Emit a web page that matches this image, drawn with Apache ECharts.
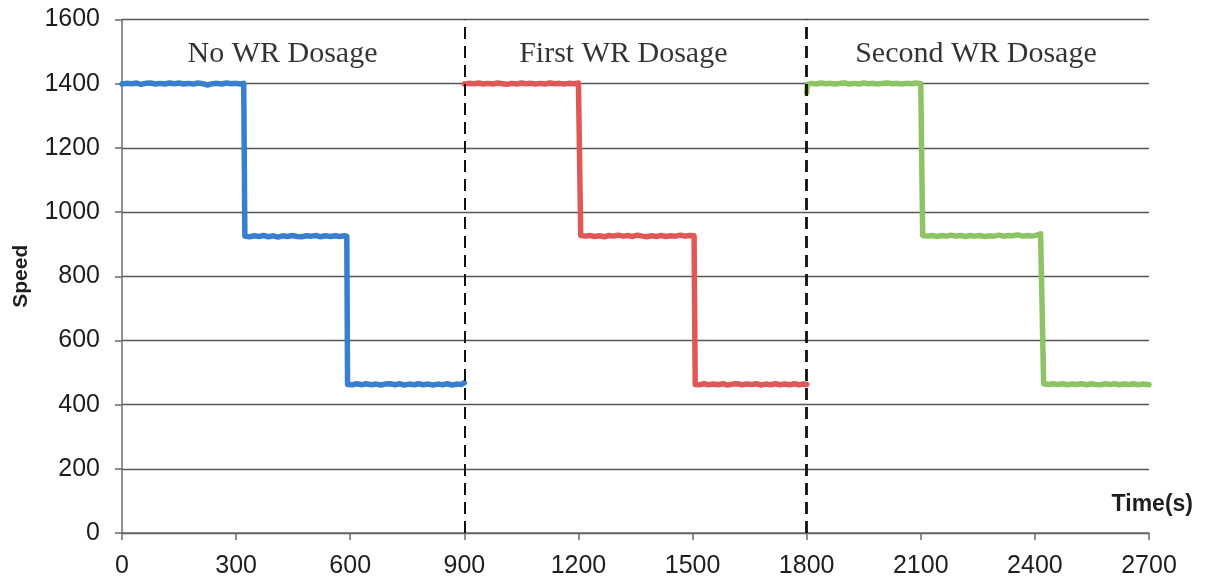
<!DOCTYPE html>
<html>
<head>
<meta charset="utf-8">
<title>Speed vs Time</title>
<script src="https://cdn.jsdelivr.net/npm/echarts@6/dist/echarts.min.js"></script>
<style>
  html, body { margin: 0; padding: 0; background: #ffffff; }
  #chart { width: 1206px; height: 579px; }
</style>
</head>
<body>
<div id="chart"></div>
<script>
// Speed readings [time (s), speed] for each dosage phase
const noDosage = [
  [0, 1399], [12, 1401], [25, 1400], [38, 1402], [50, 1398], [62, 1401], [75, 1402],
  [88, 1399], [100, 1401], [112, 1399], [125, 1402], [138, 1400], [150, 1402], [162, 1399],
  [175, 1401], [188, 1399], [200, 1402], [212, 1400], [225, 1396], [238, 1400], [250, 1401],
  [262, 1399], [275, 1402], [288, 1400], [300, 1401], [310, 1399], [320, 1401],
  [323, 925], [335, 923], [348, 926], [360, 924], [372, 927], [385, 923], [398, 926],
  [410, 922], [422, 926], [435, 924], [448, 927], [460, 924], [472, 923], [485, 926],
  [498, 925], [510, 927], [522, 923], [535, 926], [548, 924], [560, 926], [572, 924],
  [584, 926], [591, 925],
  [593, 463], [605, 462], [618, 465], [630, 462], [642, 465], [655, 462], [668, 464],
  [680, 461], [692, 464], [705, 465], [718, 462], [730, 465], [742, 461], [755, 464],
  [768, 462], [780, 465], [792, 462], [805, 464], [818, 461], [830, 464], [842, 462],
  [855, 465], [868, 461], [880, 464], [892, 463], [900, 468]
];
const firstDosage = [
  [900, 1399], [912, 1401], [925, 1400], [938, 1402], [950, 1399], [962, 1401], [975, 1399],
  [988, 1402], [1000, 1400], [1012, 1398], [1025, 1401], [1038, 1399], [1050, 1402],
  [1062, 1400], [1075, 1401], [1088, 1399], [1100, 1401], [1112, 1399], [1125, 1402],
  [1138, 1400], [1150, 1401], [1162, 1399], [1175, 1401], [1188, 1400], [1200, 1402],
  [1204, 1401],
  [1206, 927], [1218, 925], [1230, 927], [1242, 924], [1255, 926], [1268, 923], [1280, 927],
  [1292, 925], [1305, 928], [1318, 925], [1330, 927], [1342, 924], [1355, 928], [1368, 925],
  [1380, 923], [1392, 926], [1405, 924], [1418, 927], [1430, 924], [1442, 926], [1455, 925],
  [1468, 928], [1480, 925], [1492, 927], [1504, 926],
  [1507, 463], [1518, 462], [1530, 465], [1542, 462], [1555, 464], [1568, 462], [1580, 465],
  [1592, 461], [1605, 464], [1618, 465], [1630, 462], [1642, 464], [1655, 463], [1668, 465],
  [1680, 461], [1692, 464], [1705, 462], [1718, 465], [1730, 462], [1742, 464], [1755, 462],
  [1768, 465], [1780, 462], [1792, 464], [1800, 463]
];
const secondDosage = [
  [1800, 1372], [1802, 1398], [1812, 1401], [1825, 1399], [1838, 1402], [1850, 1400],
  [1862, 1401], [1875, 1399], [1888, 1401], [1900, 1402], [1912, 1399], [1925, 1401],
  [1938, 1399], [1950, 1402], [1962, 1400], [1975, 1401], [1988, 1399], [2000, 1401],
  [2012, 1402], [2025, 1400], [2038, 1401], [2050, 1399], [2062, 1401], [2075, 1400],
  [2088, 1402], [2100, 1400], [2103, 1401],
  [2105, 927], [2118, 925], [2130, 927], [2142, 924], [2155, 927], [2168, 925], [2180, 928],
  [2192, 925], [2205, 927], [2218, 924], [2230, 927], [2242, 925], [2255, 927], [2268, 924],
  [2280, 926], [2292, 925], [2305, 928], [2318, 925], [2330, 927], [2342, 926], [2355, 929],
  [2368, 925], [2380, 927], [2392, 925], [2405, 928], [2415, 932], [2420, 928],
  [2423, 465], [2435, 463], [2448, 465], [2460, 463], [2472, 465], [2485, 462], [2498, 464],
  [2510, 463], [2522, 465], [2535, 462], [2548, 465], [2560, 463], [2572, 462], [2585, 465],
  [2598, 463], [2610, 465], [2622, 462], [2635, 464], [2648, 463], [2660, 465], [2672, 462],
  [2685, 464], [2700, 462]
];

// Phase boundaries and phase captions
const phaseBoundaries = [900, 1800];
const phaseNames = ['No WR Dosage', 'First WR Dosage', 'Second WR Dosage'];
const phaseNameX = [422, 1318, 2245];
const phaseNameY = [1493, 1493, 1493];

// Axis ticks
const xTicks = { min: 0, max: 2700, interval: 300 };
const yTicks = { min: 0, max: 1600, interval: 200 };

const sans = '"Liberation Sans", Arial, sans-serif';
const serif = '"Liberation Serif", "Times New Roman", serif';

const chart = echarts.init(document.getElementById('chart'), null, { renderer: 'canvas' });

function stepSeries(name, data, color) {
  return {
    name: name,
    type: 'line',
    data: data,
    showSymbol: false,
    symbol: 'none',
    lineStyle: { color: color, width: 5.5, cap: 'round', join: 'round' },
    itemStyle: { color: color },
    silent: true,
    z: 3
  };
}

const plainNumber = v => String(v);

chart.setOption({
  animation: false,
  backgroundColor: '#ffffff',
  grid: { left: 122, right: 57, top: 19.5, bottom: 45, containLabel: false },
  xAxis: {
    type: 'value',
    min: xTicks.min,
    max: xTicks.max,
    interval: xTicks.interval,
    axisLine: { show: true, lineStyle: { color: '#6a6a6a', width: 1.5 } },
    axisTick: { show: true, length: 7, lineStyle: { color: '#6a6a6a', width: 1.5 } },
    axisLabel: { color: '#1e1e1e', fontSize: 25, fontFamily: sans, margin: 21, formatter: plainNumber },
    splitLine: { show: false }
  },
  yAxis: {
    type: 'value',
    min: yTicks.min,
    max: yTicks.max,
    interval: yTicks.interval,
    name: 'Speed',
    nameLocation: 'middle',
    nameGap: 90,
    nameTextStyle: { color: '#1e1e1e', fontSize: 21, fontWeight: 'bold', fontFamily: sans },
    axisLine: { show: true, lineStyle: { color: '#6a6a6a', width: 1.5 } },
    axisTick: { show: true, length: 7, lineStyle: { color: '#6a6a6a', width: 1.5 } },
    axisLabel: { color: '#1e1e1e', fontSize: 25, fontFamily: sans, margin: 22, formatter: plainNumber },
    splitLine: { show: true, lineStyle: { color: '#555555', width: 1.3 } }
  },
  graphic: [{
    type: 'text',
    right: 13,
    top: 493,
    style: { text: 'Time(s)', fill: '#1e1e1e', font: 'bold 23px ' + sans }
  }],
  series: [
    Object.assign(stepSeries('No WR Dosage', noDosage, '#3a7fcf'), {
      markLine: {
        silent: true,
        symbol: 'none',
        label: { show: false },
        data: [
          { xAxis: phaseBoundaries[0], lineStyle: { color: '#111', width: 2, type: [12, 7] } },
          { xAxis: phaseBoundaries[1], lineStyle: { color: '#111', width: 2.8, type: [12, 7] } }
        ]
      }
    }),
    stepSeries('First WR Dosage', firstDosage, '#df5757'),
    stepSeries('Second WR Dosage', secondDosage, '#8cc365'),
    {
      type: 'scatter',
      silent: true,
      symbolSize: 0,
      data: phaseNames.map((n, i) => ({ value: [phaseNameX[i], phaseNameY[i]], name: n })),
      label: {
        show: true,
        position: [0, 0],
        align: 'center',
        verticalAlign: 'middle',
        formatter: p => p.name,
        fontFamily: serif,
        fontSize: 30,
        color: '#000000'
      },
      z: 5
    }
  ]
});
</script>
</body>
</html>
